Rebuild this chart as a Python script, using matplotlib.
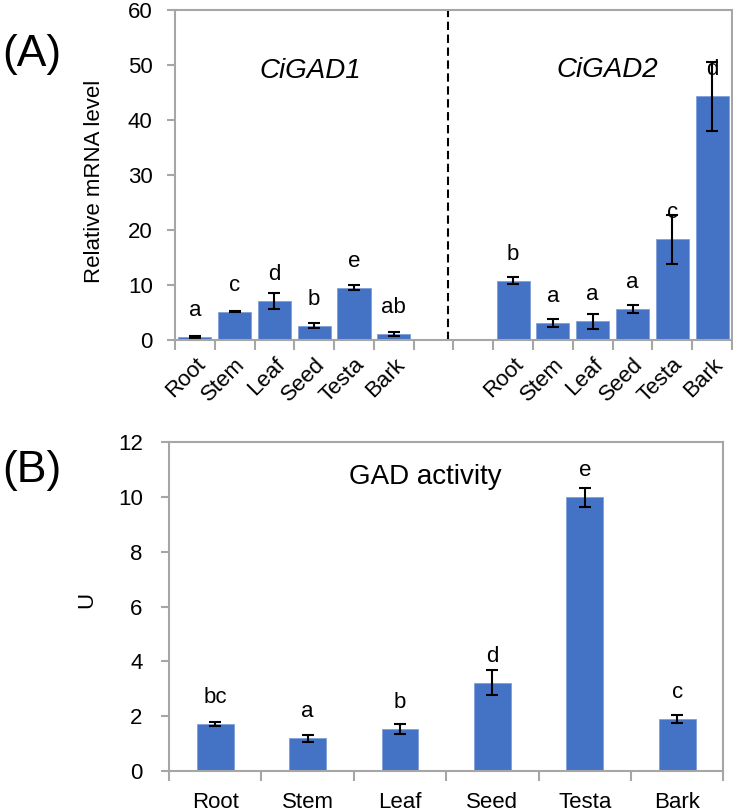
import numpy as np
import matplotlib
matplotlib.use('Agg')
import matplotlib.pyplot as plt

plt.rcParams['font.family'] = ['Liberation Sans', 'DejaVu Sans']

# ---- dados painel A (mRNA relativo) ----
tecidos = ['Root', 'Stem', 'Leaf', 'Seed', 'Testa', 'Bark']
gad1 = [0.5, 5.15, 7.1, 2.55, 9.5, 1.1]
gad1_err = [0.2, 0.1, 1.4, 0.45, 0.5, 0.35]
gad1_letras = ['a', 'c', 'd', 'b', 'e', 'ab']
gad2 = [10.8, 3.1, 3.4, 5.6, 18.3, 44.3]
gad2_err = [0.57, 0.67, 1.4, 0.73, 4.4, 6.3]
gad2_letras = ['b', 'a', 'a', 'a', 'c', 'd']

# ---- dados painel B (atividade GAD) ----
atividade = [1.72, 1.18, 1.52, 3.22, 9.99, 1.89]
atividade_err = [0.07, 0.12, 0.18, 0.46, 0.35, 0.16]
atividade_letras = ['bc', 'a', 'b', 'd', 'e', 'c']

azul = '#4472C4'
cinza = '#A6A6A6'
fs = 16

fig = plt.figure(figsize=(7.33, 8.11), dpi=100)
axA = fig.add_axes([0.2387, 0.5808, 0.7599, 0.4069])
axB = fig.add_axes([0.2306, 0.0497, 0.7562, 0.4049])


def estilo(ax, n, pad_y):
    for s in ax.spines.values():
        s.set_color(cinza)
        s.set_linewidth(1.5)
    ax.set_xlim(-0.5, n - 0.5)
    ax.set_xticks(np.arange(-0.5, n, 1.0), minor=True)
    ax.tick_params(axis='x', which='major', length=0)
    ax.tick_params(axis='x', which='minor', length=7, width=1.5, color=cinza)
    ax.tick_params(axis='y', length=6, width=1.5, color=cinza, pad=pad_y, labelsize=fs)


def letras(ax, xs, ys, labs):
    for x, y, t in zip(xs, ys, labs):
        ax.annotate(t, (x, y), xytext=(0, 21), textcoords='offset pixels',
                    ha='center', va='baseline', fontsize=fs)


# ---- Painel A ----
rotulos_A = tecidos + ['', ''] + tecidos
valores_A = gad1 + [0, 0] + gad2
erros_A = gad1_err + [0, 0] + gad2_err
xA = np.arange(len(rotulos_A))
mask = np.array([r != '' for r in rotulos_A])
axA.bar(xA[mask], np.array(valores_A)[mask], width=0.83, color=azul,
        edgecolor='#7f9fd8', linewidth=0.6)
axA.errorbar(xA[mask], np.array(valores_A)[mask], yerr=np.array(erros_A)[mask],
             fmt='none', ecolor='black', elinewidth=1.5, capsize=4.5, capthick=1.5)
letras(axA, xA[mask], np.array(valores_A)[mask], gad1_letras + gad2_letras)
axA.axvline(6.35, color='black', linewidth=1.5, linestyle=(0, (4, 2.2)))
estilo(axA, len(rotulos_A), 10)
axA.set_ylim(0, 60)
axA.set_yticks(np.arange(0, 61, 10))
axA.set_xticks(xA)
axA.set_xticklabels(rotulos_A, rotation=45, ha='right', rotation_mode='anchor', fontsize=fs)
axA.tick_params(axis='x', which='major', pad=10)
axA.set_ylabel('Relative mRNA level', fontsize=16)
axA.yaxis.set_label_coords(-0.125, 0.48)
axA.text(2.9, 48.9, 'CiGAD1', style='italic', fontsize=20, ha='center', va='center')
axA.text(10.36, 49.1, 'CiGAD2', style='italic', fontsize=20, ha='center', va='center')
fig.text(0.003, 0.933, '(A)', fontsize=32, ha='left', va='center')

# ---- Painel B ----
xB = np.arange(len(tecidos))
axB.bar(xB, atividade, width=0.40, color=azul, edgecolor='#7f9fd8', linewidth=0.6)
axB.errorbar(xB, atividade, yerr=atividade_err, fmt='none', ecolor='black',
             elinewidth=1.5, capsize=4.5, capthick=1.5)
letras(axB, xB, atividade, atividade_letras)
estilo(axB, len(tecidos), 13)
axB.set_ylim(0, 12)
axB.set_yticks(np.arange(0, 13, 2))
axB.set_xticks(xB)
axB.set_xticklabels(tecidos, fontsize=fs)
axB.tick_params(axis='x', which='major', pad=15)
axB.set_ylabel('U', fontsize=16)
axB.yaxis.set_label_coords(-0.13, 0.52)
axB.text(2.27, 10.74, 'GAD activity', fontsize=20, ha='center', va='center')
fig.text(0.003, 0.42, '(B)', fontsize=32, ha='left', va='center')

fig.savefig('out.png', dpi=100)
